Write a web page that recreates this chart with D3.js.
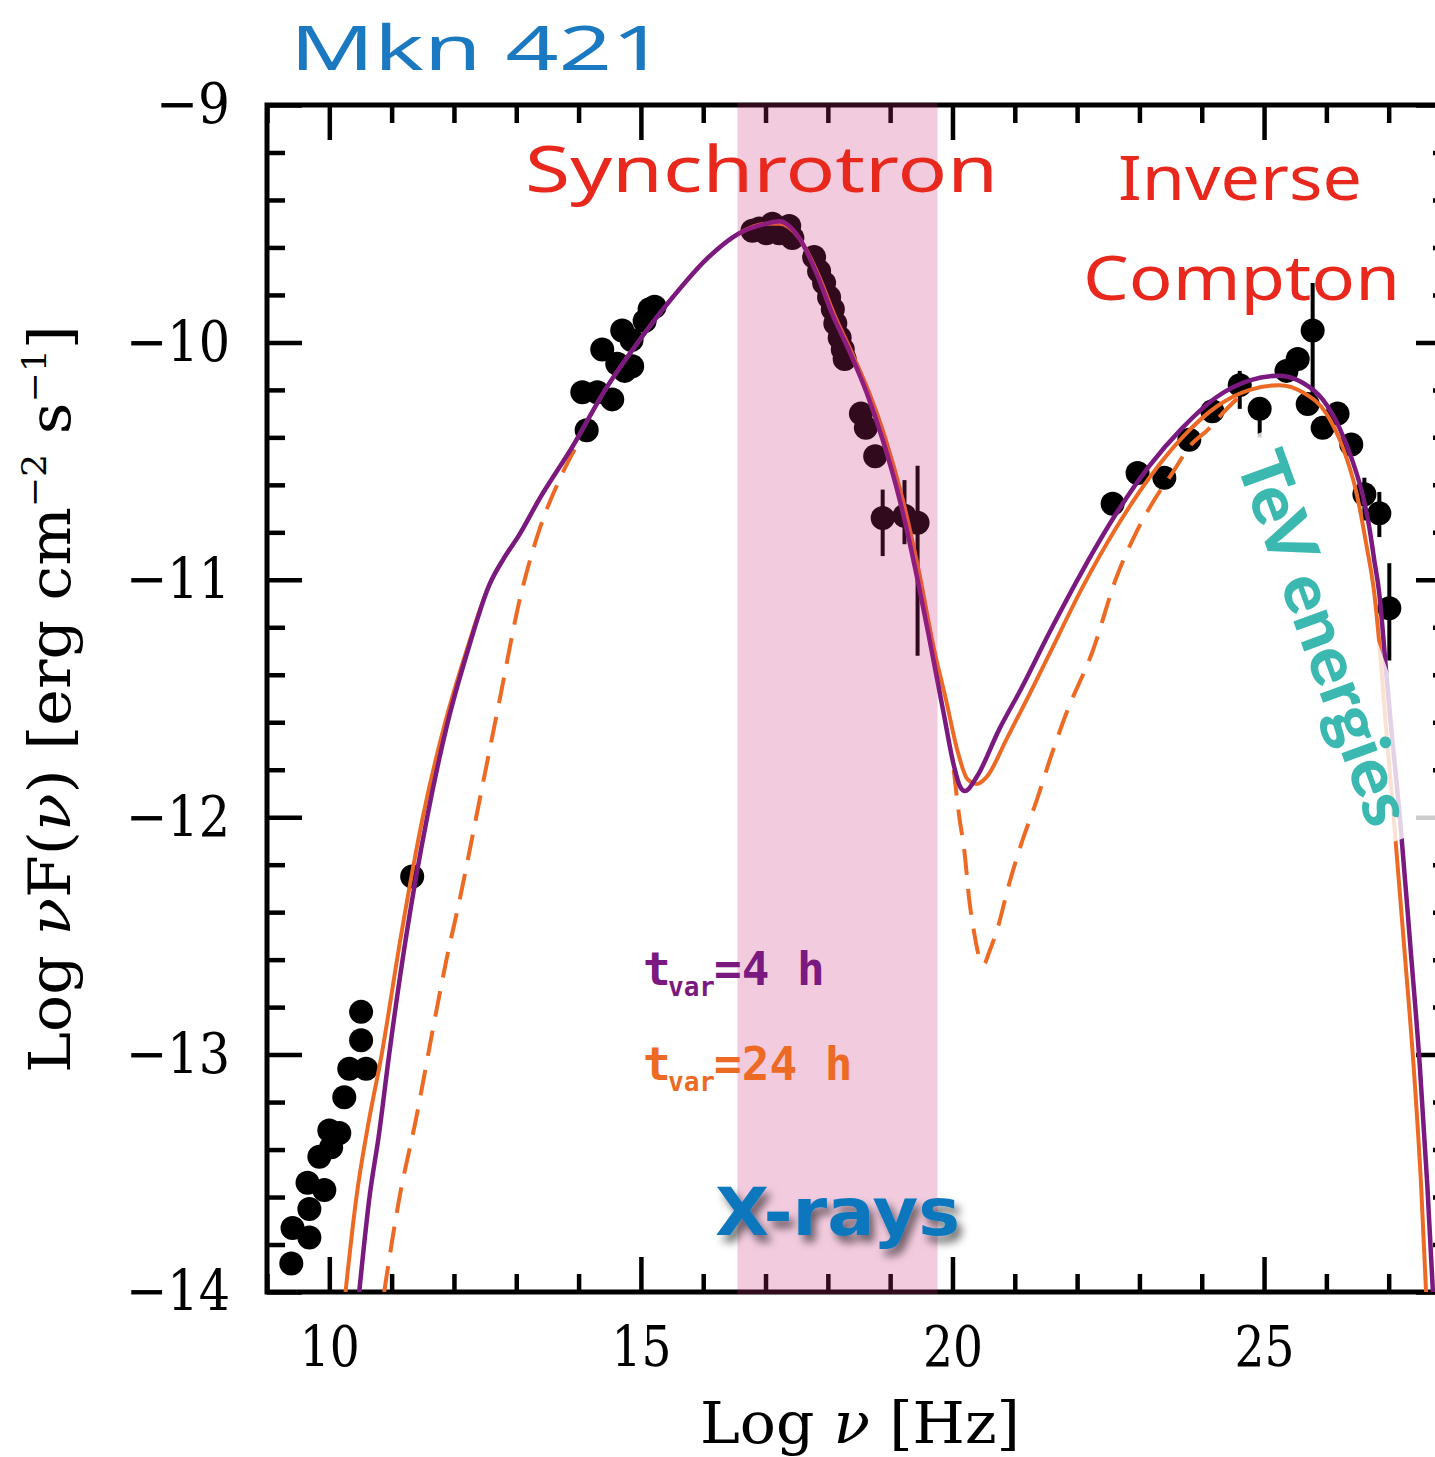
<!DOCTYPE html>
<html>
<head>
<meta charset="utf-8">
<script src="https://cdn.jsdelivr.net/npm/d3@7"></script>
<style>
  html, body { margin: 0; padding: 0; background: #ffffff; }
  svg { display: block; }
</style>
</head>
<body>
<svg id="chart" width="1435" height="1457"></svg>
<script>
// Spectral energy distribution of Mkn 421: log ν [Hz] against log νF(ν) [erg cm^-2 s^-1],
// with two synchrotron self-Compton model curves (t_var = 4 h and 24 h).

// ---- axis ticks ----
const xMajorTicks = [10, 15, 20, 25];
const xTickLabels = ["10", "15", "20", "25"];
const yMajorTicks = [-14, -13, -12, -11, -10, -9];
const yTickLabels = ["\u221214", "\u221213", "\u221212", "\u221211", "\u221210", "\u22129"];

// ---- shaded X-ray window (log ν) ----
const xrayBand = [16.55, 19.76];

// ---- observed fluxes [log ν, log νFν] ----
const obsRadio = [
  [9.39, -13.88], [9.41, -13.73], [9.68, -13.77], [9.68, -13.65], [9.65, -13.54],
  [9.92, -13.57], [9.84, -13.43], [10.03, -13.39], [10.00, -13.32], [10.16, -13.33],
  [10.24, -13.18], [10.32, -13.06], [10.59, -13.06], [10.51, -12.94], [10.51, -12.82],
  [11.33, -12.25]
];
const obsOptical = [
  [14.13, -10.37], [14.06, -10.21], [14.30, -10.21], [14.54, -10.24], [14.38, -10.03],
  [14.62, -10.09], [14.74, -10.12], [14.70, -9.95], [14.85, -9.99], [14.86, -10.10],
  [15.06, -9.91], [15.14, -9.86], [15.22, -9.85]
];
const obsXray = [
  [16.79, -9.53], [16.90, -9.52], [17.01, -9.54], [17.11, -9.50], [17.22, -9.54],
  [17.38, -9.51], [17.43, -9.56], [17.78, -9.64], [17.86, -9.70], [17.94, -9.75],
  [18.02, -9.81], [18.08, -9.86], [18.12, -9.92], [18.19, -9.98], [18.24, -10.03],
  [18.27, -10.07], [18.53, -10.30], [18.61, -10.36], [18.76, -10.48]
];
const obsGamma = [
  [22.57, -10.68], [22.97, -10.55], [23.40, -10.57], [23.80, -10.41], [24.17, -10.29],
  [25.36, -10.12], [25.54, -10.07], [25.70, -10.26], [25.94, -10.36], [26.18, -10.30],
  [26.40, -10.43]
];
// points with error bars: [log ν, log νFν, upper, lower]
const obsWithErrors = [
  [18.88, -10.74, -10.62, -10.90], [19.23, -10.73, -10.58, -10.85], [19.44, -10.76, -10.52, -11.32],
  [24.61, -10.18, -10.12, -10.28], [24.93, -10.28, -10.23, -10.40], [25.78, -9.95, -9.75, -10.30],
  [26.61, -10.64, -10.57, -10.75], [26.85, -10.72, -10.63, -10.82], [27.01, -11.12, -10.93, -11.34]
];

// ---- model curves [log ν, log νFν] ----
const modelTvar4h = [
  [10.48, -14.0], [10.64, -13.61], [10.80, -13.33], [10.96, -13.0], [11.24, -12.49],
  [11.57, -12.0], [11.90, -11.6], [12.22, -11.3], [12.57, -11.02], [12.80, -10.91],
  [13.05, -10.81], [13.37, -10.66], [13.90, -10.44], [14.45, -10.19], [14.98, -9.99],
  [15.51, -9.81], [16.05, -9.65], [16.58, -9.54], [17.01, -9.50], [17.22, -9.49],
  [17.54, -9.56], [17.82, -9.71], [18.07, -9.88], [18.35, -10.04], [18.62, -10.21],
  [18.88, -10.41], [19.15, -10.66], [19.40, -10.95], [19.63, -11.25], [19.85, -11.55],
  [20.02, -11.78], [20.12, -11.87], [20.20, -11.89], [20.39, -11.83], [20.75, -11.63],
  [21.10, -11.46], [21.56, -11.22], [22.09, -10.96], [22.63, -10.72], [23.16, -10.52],
  [23.69, -10.36], [24.24, -10.23], [24.77, -10.16], [25.25, -10.14], [25.62, -10.17],
  [25.94, -10.24], [26.21, -10.36], [26.42, -10.50], [26.58, -10.64], [26.69, -10.78],
  [26.77, -10.92], [26.85, -11.06], [26.90, -11.20], [26.95, -11.36], [27.05, -11.65],
  [27.18, -12.0], [27.35, -12.55], [27.50, -13.05], [27.62, -13.55], [27.71, -14.0]
];
const modelTvar24h = [
  [10.26, -14.0], [10.43, -13.61], [10.62, -13.3], [10.84, -13.0], [11.15, -12.5],
  [11.50, -12.0], [11.86, -11.6], [12.20, -11.3], [12.57, -11.02], [12.80, -10.91],
  [13.05, -10.81], [13.37, -10.66], [13.90, -10.44], [14.45, -10.19], [14.98, -9.99],
  [15.51, -9.81], [16.05, -9.65], [16.58, -9.54], [17.01, -9.50], [17.22, -9.50],
  [17.54, -9.56], [17.84, -9.71], [18.10, -9.88], [18.38, -10.04], [18.66, -10.21],
  [18.93, -10.41], [19.20, -10.66], [19.45, -10.95], [19.71, -11.30], [19.90, -11.51],
  [20.08, -11.72], [20.24, -11.84], [20.39, -11.86], [20.55, -11.83], [20.87, -11.67],
  [21.24, -11.48], [21.56, -11.31], [22.09, -11.03], [22.63, -10.78], [23.16, -10.57],
  [23.69, -10.40], [24.24, -10.27], [24.77, -10.20], [25.25, -10.18], [25.62, -10.21],
  [26.00, -10.30], [26.26, -10.44], [26.48, -10.63], [26.64, -10.85], [26.77, -11.06],
  [26.85, -11.27], [26.95, -11.6], [27.08, -12.0], [27.25, -12.55], [27.40, -13.05],
  [27.52, -13.55], [27.60, -14.0]
];
// dashed 24 h variant: low-frequency branch and the deeper dip between the humps
const modelTvar24hAlt = [
  [10.88, -14.0], [11.12, -13.61], [11.40, -13.26], [11.65, -12.91], [11.88, -12.60],
  [12.09, -12.35], [12.41, -11.93], [12.73, -11.51], [13.05, -11.09], [13.37, -10.79],
  [13.69, -10.58], [13.98, -10.43],
  null,
  [20.02, -11.80], [20.11, -12.0], [20.19, -12.14], [20.27, -12.35], [20.35, -12.49],
  [20.43, -12.59], [20.50, -12.62], [20.60, -12.56], [20.71, -12.48], [20.91, -12.28],
  [21.12, -12.10], [21.35, -11.93], [21.56, -11.76], [21.83, -11.56], [22.25, -11.30],
  [22.63, -10.99], [22.95, -10.80], [23.27, -10.65], [23.53, -10.55], [23.80, -10.44],
  [24.13, -10.36], [24.33, -10.30], [24.56, -10.24], [24.77, -10.20]
];

// ---- layout ----
const svg = d3.select("#chart");
const x = d3.scaleLinear().domain([9, 28]).range([267, 1451]);
const y = d3.scaleLinear().domain([-14, -9]).range([1292, 105]);
const [x0, x1] = x.range();
const [y0, y1] = [y(-9), y(-14)];

const PURPLE = "#7a1a80";
const ORANGE = "#ec6a24";
const serif = "'DejaVu Serif', 'Liberation Serif', serif";

svg.append("rect").attr("width", 1435).attr("height", 1457).attr("fill", "#fff");

const defs = svg.append("defs");
defs.append("clipPath").attr("id", "plotClip")
  .append("rect").attr("x", x0).attr("y", y0).attr("width", x1 - x0).attr("height", y1 - y0);
const shadow = defs.append("filter").attr("id", "xshadow")
  .attr("x", "-20%").attr("y", "-30%").attr("width", "150%").attr("height", "180%");
shadow.append("feDropShadow").attr("dx", 5).attr("dy", 7).attr("stdDeviation", 4)
  .attr("flood-color", "#000").attr("flood-opacity", 0.55);

// ---- axes ----
const xMinor = d3.range(9, 29).filter(v => v % 5 !== 0);
const yMinor = d3.range(0, 26).map(i => -14 + i * 0.2)
  .filter(v => Math.abs(v - Math.round(v)) > 1e-6);

function styleAxis(g) {
  g.select(".domain").remove();
  g.selectAll(".tick line").attr("stroke", "#000").attr("stroke-width", 4.5);
}
function labelWidth(s) {
  let w = 0;
  for (const ch of s) w += (ch === "\u2212") ? 44 : 30;
  return w;
}

const axisMakers = [
  () => d3.axisBottom(x), () => d3.axisTop(x), () => d3.axisLeft(y), () => d3.axisRight(y)
];
const axisShifts = [`translate(0,${y1})`, `translate(0,${y0})`, `translate(${x0},0)`, `translate(${x1},0)`];
axisMakers.forEach((make, i) => {
  const isX = i < 2;
  const majors = isX ? xMajorTicks : yMajorTicks;
  const minors = isX ? xMinor : yMinor;
  const labels = isX ? xTickLabels : yTickLabels;
  const showLabels = (i === 0 || i === 2);
  const gMinor = svg.append("g").attr("transform", axisShifts[i])
    .call(make().tickValues(minors).tickSize(-18).tickSizeOuter(0).tickFormat(() => ""));
  styleAxis(gMinor);
  const gMajor = svg.append("g").attr("transform", axisShifts[i])
    .call(make().tickValues(majors).tickSize(-35).tickSizeOuter(0)
      .tickPadding(i === 0 ? 34 : 37)
      .tickFormat((d, k) => showLabels ? labels[k] : ""));
  styleAxis(gMajor);
  gMajor.selectAll("text")
    .attr("font-family", serif).attr("font-size", 56).attr("fill", "#000")
    .each(function () {
      const s = d3.select(this).text();
      if (s) d3.select(this).attr("textLength", labelWidth(s)).attr("lengthAdjust", "spacingAndGlyphs");
    });
});

svg.append("rect").attr("x", x0).attr("y", y0).attr("width", x1 - x0).attr("height", y1 - y0)
  .attr("fill", "none").attr("stroke", "#000").attr("stroke-width", 5);

// ---- axis titles ----
const xt = svg.append("text").attr("x", 860).attr("y", 1443)
  .attr("text-anchor", "middle").attr("font-family", serif).attr("font-size", 58)
  .attr("textLength", 320).attr("lengthAdjust", "spacingAndGlyphs");
xt.append("tspan").text("Log ");
xt.append("tspan").attr("font-style", "italic").text("\u03BD");
xt.append("tspan").text(" [Hz]");

const yt = svg.append("text").attr("transform", "translate(70,699) rotate(-90)")
  .attr("text-anchor", "middle").attr("font-family", serif).attr("font-size", 58)
  .attr("textLength", 748).attr("lengthAdjust", "spacingAndGlyphs");
yt.append("tspan").text("Log ");
yt.append("tspan").attr("font-style", "italic").text("\u03BD");
yt.append("tspan").text("F(");
yt.append("tspan").attr("font-style", "italic").text("\u03BD");
yt.append("tspan").text(") [erg cm");
yt.append("tspan").attr("font-size", 34).attr("dy", -24).text("\u22122");
yt.append("tspan").attr("dy", 24).text(" s");
yt.append("tspan").attr("font-size", 34).attr("dy", -24).text("\u22121");
yt.append("tspan").attr("dy", 24).text("]");

// ---- data and models, clipped to the frame ----
const plot = svg.append("g").attr("clip-path", "url(#plotClip)");

plot.append("g").selectAll("line").data(obsWithErrors).join("line")
  .attr("x1", d => x(d[0])).attr("x2", d => x(d[0]))
  .attr("y1", d => y(d[2])).attr("y2", d => y(d[3]))
  .attr("stroke", "#000").attr("stroke-width", 4);

const allPoints = obsRadio.concat(obsOptical, obsXray, obsGamma, obsWithErrors.map(d => [d[0], d[1]]));
plot.append("g").selectAll("circle").data(allPoints).join("circle")
  .attr("cx", d => x(d[0])).attr("cy", d => y(d[1])).attr("r", 12).attr("fill", "#000");

const line = d3.line().defined(d => d !== null)
  .x(d => x(d[0])).y(d => y(d[1])).curve(d3.curveMonotoneX);

plot.append("path").attr("d", line(modelTvar24hAlt)).attr("fill", "none")
  .attr("stroke", ORANGE).attr("stroke-width", 4).attr("stroke-dasharray", "26 14");
plot.append("path").attr("d", line(modelTvar24h)).attr("fill", "none")
  .attr("stroke", ORANGE).attr("stroke-width", 4);
plot.append("path").attr("d", line(modelTvar4h)).attr("fill", "none")
  .attr("stroke", PURPLE).attr("stroke-width", 4.5);

// ---- translucent X-ray window over everything inside the frame ----
svg.append("rect")
  .attr("x", x(xrayBand[0])).attr("width", x(xrayBand[1]) - x(xrayBand[0]))
  .attr("y", y0 - 2).attr("height", y1 - y0 + 4)
  .attr("fill", "rgb(204,40,122)").attr("fill-opacity", 0.245);

// ---- annotations ----
const hand = "'Noto Sans', 'Open Sans', sans-serif";
svg.append("text").attr("x", 290).attr("y", 70).attr("font-family", hand).attr("font-size", 62)
  .attr("fill", "#1a79c1").attr("textLength", 375).attr("lengthAdjust", "spacingAndGlyphs").text("Mkn 421");
svg.append("text").attr("x", 525).attr("y", 192).attr("font-family", hand).attr("font-size", 64)
  .attr("fill", "#e8281d").attr("textLength", 473).attr("lengthAdjust", "spacingAndGlyphs").text("Synchrotron");
svg.append("text").attr("x", 1118).attr("y", 200).attr("font-family", hand).attr("font-size", 62)
  .attr("fill", "#e8281d").attr("textLength", 244).attr("lengthAdjust", "spacingAndGlyphs").text("Inverse");
svg.append("text").attr("x", 1083).attr("y", 300).attr("font-family", hand).attr("font-size", 62)
  .attr("fill", "#e8281d").attr("textLength", 317).attr("lengthAdjust", "spacingAndGlyphs").text("Compton");

// model legend: t_var = ...
const mono = "'DejaVu Sans Mono', 'Liberation Mono', monospace";
function tvarLabel(yBase, rest, restLen, color) {
  const t = svg.append("text").attr("fill", color).attr("font-family", mono)
    .attr("font-weight", "bold").attr("font-size", 46);
  t.append("tspan").attr("x", 643).attr("y", yBase).text("t");
  t.append("tspan").attr("x", 668).attr("y", yBase + 11).attr("font-size", 26).text("var");
  t.append("tspan").attr("x", 714).attr("y", yBase).text(rest);
}
tvarLabel(985, "=4 h", 118, PURPLE);
tvarLabel(1080, "=24 h", 148, ORANGE);

// X-ray window label
svg.append("text").attr("x", 715).attr("y", 1235)
  .attr("font-family", "'DejaVu Sans', sans-serif").attr("font-weight", "bold").attr("font-size", 66)
  .attr("fill", "#0b77bd").attr("filter", "url(#xshadow)")
  .attr("textLength", 245).attr("lengthAdjust", "spacingAndGlyphs").text("X-rays");

// TeV label on a soft white strip
const tev = svg.append("g").attr("transform", "translate(1325,638) rotate(70)");
tev.append("rect").attr("x", -215).attr("y", -48).attr("width", 430).attr("height", 96)
  .attr("fill", "#fff").attr("fill-opacity", 0.8);
tev.append("text").attr("x", 0).attr("y", 24).attr("text-anchor", "middle")
  .attr("font-family", "Lato, 'Open Sans', sans-serif").attr("font-weight", 900).attr("font-size", 68)
  .attr("fill", "#3bb9b1").attr("textLength", 392).attr("lengthAdjust", "spacingAndGlyphs")
  .text("TeV energies");
</script>
</body>
</html>
